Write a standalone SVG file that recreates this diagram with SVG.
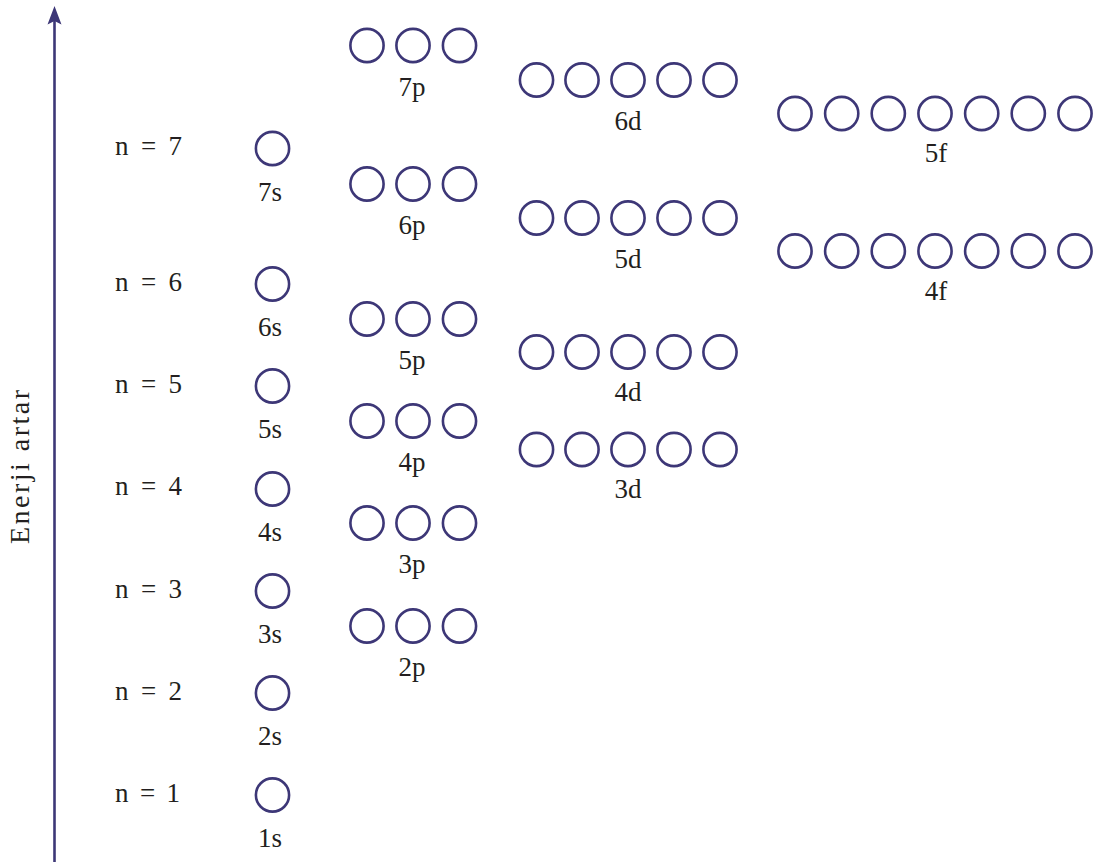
<svg xmlns="http://www.w3.org/2000/svg" width="1095" height="862" viewBox="0 0 1095 862">
<style>
.o{fill:none;stroke:#3d3777;stroke-width:2.6}
.t{font-family:"Liberation Serif",serif;font-size:27px;fill:#231f20}
.m{text-anchor:middle}
</style>
<defs>
<circle id="c" class="o" r="16.6"/>
</defs>
<rect width="1095" height="862" fill="#fff"/>
<g id="connectors">
<line x1="54.5" y1="862" x2="54.5" y2="20" stroke="#3d3777" stroke-width="2.6"/>
<path d="M54.5 6 L61.5 24.5 L54.5 21 L47.5 24.5 Z" fill="#3d3777"/>
</g>
<g id="axis-label"><text class="t m" style="font-size:28px" transform="translate(29,467) rotate(-90)" textLength="154">Enerji artar</text></g>
<g id="levels">
<text class="t" x="115" y="155" textLength="67">n = 7</text>
<text class="t" x="115" y="291" textLength="67">n = 6</text>
<text class="t" x="115" y="393" textLength="67">n = 5</text>
<text class="t" x="115" y="495" textLength="67">n = 4</text>
<text class="t" x="115" y="598" textLength="67">n = 3</text>
<text class="t" x="115" y="700" textLength="67">n = 2</text>
<text class="t" x="115" y="802" textLength="65">n = 1</text>
</g>
<g id="s7"><use href="#c" x="272.5" y="148.5"/><text class="t m" x="270" y="201">7s</text></g>
<g id="s6"><use href="#c" x="272.5" y="284"/><text class="t m" x="270" y="336">6s</text></g>
<g id="s5"><use href="#c" x="272.5" y="386"/><text class="t m" x="270" y="438">5s</text></g>
<g id="s4"><use href="#c" x="272.5" y="489"/><text class="t m" x="270" y="541">4s</text></g>
<g id="s3"><use href="#c" x="272.5" y="591"/><text class="t m" x="270" y="643">3s</text></g>
<g id="s2"><use href="#c" x="272.5" y="693"/><text class="t m" x="270" y="745">2s</text></g>
<g id="s1"><use href="#c" x="272.5" y="795"/><text class="t m" x="270" y="847">1s</text></g>
<g id="p7"><use href="#c" x="367" y="45.5"/><use href="#c" x="413" y="45.5"/><use href="#c" x="459.5" y="45.5"/><text class="t m" x="412" y="96">7p</text></g>
<g id="p6"><use href="#c" x="367" y="184"/><use href="#c" x="413" y="184"/><use href="#c" x="459.5" y="184"/><text class="t m" x="412" y="234">6p</text></g>
<g id="p5"><use href="#c" x="367" y="319"/><use href="#c" x="413" y="319"/><use href="#c" x="459.5" y="319"/><text class="t m" x="412" y="369">5p</text></g>
<g id="p4"><use href="#c" x="367" y="421"/><use href="#c" x="413" y="421"/><use href="#c" x="459.5" y="421"/><text class="t m" x="412" y="471">4p</text></g>
<g id="p3"><use href="#c" x="367" y="523"/><use href="#c" x="413" y="523"/><use href="#c" x="459.5" y="523"/><text class="t m" x="412" y="573">3p</text></g>
<g id="p2"><use href="#c" x="367" y="626"/><use href="#c" x="413" y="626"/><use href="#c" x="459.5" y="626"/><text class="t m" x="412" y="676">2p</text></g>
<g id="d6"><use href="#c" x="536.5" y="80"/><use href="#c" x="582" y="80"/><use href="#c" x="628" y="80"/><use href="#c" x="674" y="80"/><use href="#c" x="720" y="80"/><text class="t m" x="628" y="130">6d</text></g>
<g id="d5"><use href="#c" x="536.5" y="218"/><use href="#c" x="582" y="218"/><use href="#c" x="628" y="218"/><use href="#c" x="674" y="218"/><use href="#c" x="720" y="218"/><text class="t m" x="628" y="268">5d</text></g>
<g id="d4"><use href="#c" x="536.5" y="352"/><use href="#c" x="582" y="352"/><use href="#c" x="628" y="352"/><use href="#c" x="674" y="352"/><use href="#c" x="720" y="352"/><text class="t m" x="628" y="401">4d</text></g>
<g id="d3"><use href="#c" x="536.5" y="449.5"/><use href="#c" x="582" y="449.5"/><use href="#c" x="628" y="449.5"/><use href="#c" x="674" y="449.5"/><use href="#c" x="720" y="449.5"/><text class="t m" x="628" y="498">3d</text></g>
<g id="f5"><use href="#c" x="795" y="113.5"/><use href="#c" x="841.7" y="113.5"/><use href="#c" x="888.3" y="113.5"/><use href="#c" x="935" y="113.5"/><use href="#c" x="981.7" y="113.5"/><use href="#c" x="1028.3" y="113.5"/><use href="#c" x="1075" y="113.5"/><text class="t m" x="936" y="162">5f</text></g>
<g id="f4"><use href="#c" x="795" y="251"/><use href="#c" x="841.7" y="251"/><use href="#c" x="888.3" y="251"/><use href="#c" x="935" y="251"/><use href="#c" x="981.7" y="251"/><use href="#c" x="1028.3" y="251"/><use href="#c" x="1075" y="251"/><text class="t m" x="936" y="300">4f</text></g>
</svg>
